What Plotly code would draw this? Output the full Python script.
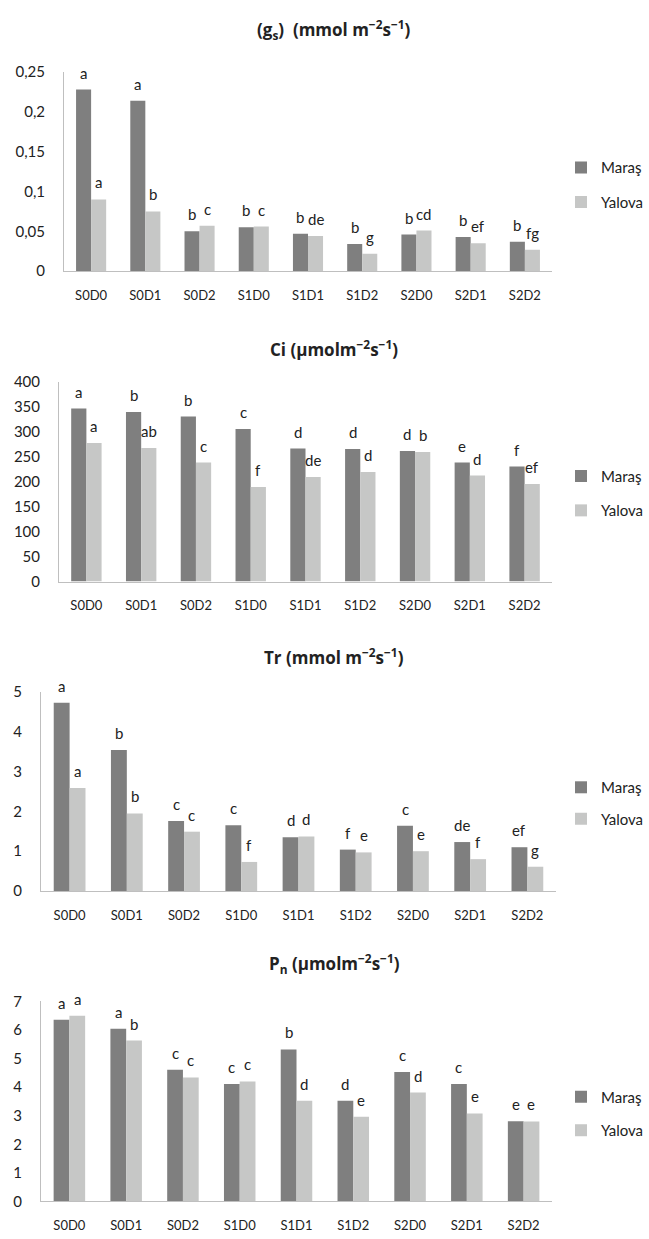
import plotly.graph_objects as go

W, H = 649, 1239

categories = ["S0D0", "S0D1", "S0D2", "S1D0", "S1D1", "S1D2", "S2D0", "S2D1", "S2D2"]
series_names = ["Maraş", "Yalova"]

gs_maras = [0.228, 0.214, 0.050, 0.055, 0.047, 0.034, 0.046, 0.043, 0.037]
gs_yalova = [0.090, 0.075, 0.057, 0.056, 0.044, 0.022, 0.051, 0.035, 0.027]
gs_maras_letters = ["a", "a", "b", "b", "b", "b", "b", "b", "b"]
gs_yalova_letters = ["a", "b", "c", "c", "de", "g", "cd", "ef", "fg"]

ci_maras = [346, 339, 330, 305, 266, 265, 261, 238, 230]
ci_yalova = [277, 267, 238, 189, 209, 219, 259, 212, 195]
ci_maras_letters = ["a", "b", "b", "c", "d", "d", "d", "e", "f"]
ci_yalova_letters = ["a", "ab", "c", "f", "de", "d", "b", "d", "ef"]

tr_maras = [4.73, 3.54, 1.76, 1.65, 1.35, 1.04, 1.64, 1.23, 1.10]
tr_yalova = [2.59, 1.95, 1.49, 0.73, 1.37, 0.97, 1.00, 0.80, 0.61]
tr_maras_letters = ["a", "b", "c", "c", "d", "f", "c", "de", "ef"]
tr_yalova_letters = ["a", "b", "c", "f", "d", "e", "e", "f", "g"]

pn_maras = [6.36, 6.04, 4.61, 4.11, 5.32, 3.52, 4.53, 4.11, 2.81]
pn_yalova = [6.50, 5.63, 4.34, 4.20, 3.52, 2.96, 3.81, 3.08, 2.80]
pn_maras_letters = ["a", "a", "c", "c", "b", "d", "c", "c", "e"]
pn_yalova_letters = ["a", "b", "c", "c", "d", "e", "d", "e", "e"]

titles = [
    "<b>(g<sub>s</sub>)  (mmol m<sup>−2</sup>s<sup>−1</sup>)</b>",
    "<b>Ci (µmolm<sup>−2</sup>s<sup>−1</sup>)</b>",
    "<b>Tr (mmol m<sup>−2</sup>s<sup>−1</sup>)</b>",
    "<b>P<sub>n</sub> (µmolm<sup>−2</sup>s<sup>−1</sup>)</b>",
]

colors = ["#7f7f7f", "#c6c7c6"]
FONT = "Lato"
TITLE_FONT = "Open Sans"
BARGAP = 0.445

# layout geometry (pixels)
panels = [
    dict(m=gs_maras, y=gs_yalova, ml=gs_maras_letters, yl=gs_yalova_letters,
         x0=64, x1=552, top=63, bot=265, rng=[0, 0.25], dtick=0.05,
         title_y=20, leg=(160, 195)),
    dict(m=ci_maras, y=ci_yalova, ml=ci_maras_letters, yl=ci_yalova_letters,
         x0=59, x1=552, top=377, bot=580, rng=[0, 400], dtick=50,
         title_y=343, leg=(473, 508)),
    dict(m=tr_maras, y=tr_yalova, ml=tr_maras_letters, yl=tr_yalova_letters,
         x0=41, x1=556, top=692, bot=894, rng=[0, 5], dtick=1,
         title_y=656, leg=(789, 821)),
    dict(m=pn_maras, y=pn_yalova, ml=pn_maras_letters, yl=pn_yalova_letters,
         x0=41, x1=552, top=1006, bot=1209, rng=[0, 7], dtick=1,
         title_y=968, leg=(1103, 1137)),
]

fig = go.Figure()
annotations = []
layout = {}
leg_idx = 1

for i, p in enumerate(panels):
    n = "" if i == 0 else str(i + 1)
    xa, ya = "x" + n, "y" + n
    for s, (name, vals, color) in enumerate(zip(series_names, [p["m"], p["y"]], colors)):
        lname = "legend" if leg_idx == 1 else "legend" + str(leg_idx)
        fig.add_trace(go.Bar(
            x=categories, y=vals, name=name, marker=dict(color=color, line=dict(width=0)),
            xaxis=xa, yaxis=ya, legend=lname, showlegend=True,
        ))
        layout[lname] = dict(
            x=561 / W, y=1 - p["leg"][s] / H, xanchor="left", yanchor="middle",
            font=dict(family=FONT, size=15, color="#222222"),
            bgcolor="rgba(0,0,0,0)", itemwidth=30, borderwidth=0,
            itemclick=False, itemdoubleclick=False,
        )
        leg_idx += 1

    layout["xaxis" + n] = dict(
        domain=[p["x0"] / W, p["x1"] / W], anchor=ya, type="category",
        showline=True, linecolor="#bfbfbf", linewidth=1, ticks="",
        showgrid=False, zeroline=False, ticklabelstandoff=12,
        tickfont=dict(family=FONT, size=13, color="#222222"), fixedrange=True,
    )
    layout["yaxis" + n] = dict(
        domain=[1 - p["bot"] / H, 1 - p["top"] / H], anchor=xa,
        range=p["rng"], dtick=p["dtick"], tick0=0,
        showline=True, linecolor="#bfbfbf", linewidth=1, ticks="",
        showgrid=False, zeroline=False, ticklabelstandoff=15,
        tickfont=dict(family=FONT, size=15, color="#222222"), fixedrange=True,
    )

    cat_px = (p["x1"] - p["x0"]) / len(categories)
    bar_w = cat_px * (1 - BARGAP) / 2
    for s, (vals, letters) in enumerate([(p["m"], p["ml"]), (p["y"], p["yl"])]):
        shift = -bar_w / 2 if s == 0 else bar_w / 2
        for c, v, t in zip(categories, vals, letters):
            annotations.append(dict(
                x=c, y=v, xref=xa, yref=ya, text=t, showarrow=False,
                xshift=shift, yshift=17, yanchor="middle", xanchor="center",
                font=dict(family=FONT, size=15, color="#222222"),
            ))

    annotations.append(dict(
        x=334 / W, y=1 - p["title_y"] / H, xref="paper", yref="paper",
        text=titles[i], showarrow=False, xanchor="center", yanchor="middle",
        font=dict(family=TITLE_FONT, size=17, color="#222222"),
    ))

fig.update_layout(
    width=W, height=H, margin=dict(l=0, r=0, t=0, b=0),
    paper_bgcolor="white", plot_bgcolor="white",
    barmode="group", bargap=BARGAP, bargroupgap=0,
    separators=",.",
    annotations=annotations,
    **layout,
)

fig.write_html(
    "out.html",
    config={"displayModeBar": False},
    post_script="document.body.style.margin='0';document.body.style.padding='0';",
)
